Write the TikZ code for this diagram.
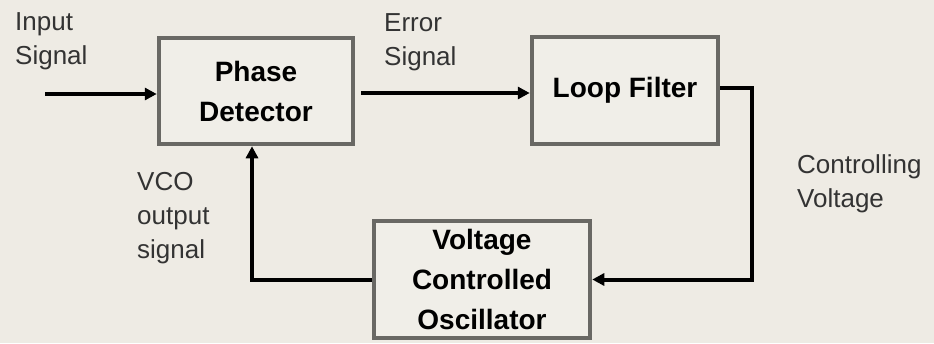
\documentclass[tikz,border=0pt]{standalone}
\usepackage{fontspec}
\setmainfont{Liberation Sans}
\usetikzlibrary{arrows.meta}

\definecolor{bgcol}{RGB}{238,235,228}
\definecolor{boxfill}{RGB}{240,238,232}
\definecolor{boxline}{RGB}{105,104,100}

\tikzset{
    block/.style={
        draw=boxline,
        fill=boxfill,
        line width=4.5pt,
        align=center,
        inner sep=0pt,
        font=\fontsize{28}{40}\selectfont\bfseries
    },
    sig/.style={
        anchor=north west,
        align=left,
        inner sep=0pt,
        text=black!80,
        font=\fontsize{26}{34}\selectfont
    },
    flow/.style={
        line width=4pt,
        -{Triangle[length=12pt,width=12pt]}
    }
}

\begin{document}
\begin{tikzpicture}[x=1pt,y=-1pt]

\fill[bgcol] (0,0) rectangle (934,343);
\useasboundingbox (0,0) rectangle (934,343);

% blocks
\node[block, minimum width=194pt, minimum height=106pt] (pd) at (256,91)
{Phase\\Detector};

\node[block, minimum width=186pt, minimum height=107pt] (lf) at (625,90.5)
{Loop Filter};

\node[block, minimum width=216pt, minimum height=117pt] (vco) at (482,279.5)
{Voltage\\Controlled\\Oscillator};

% signal names
\node[sig] (insig) at (15,12) {Input\\Signal};
\node[sig] (errsig) at (384,13) {Error\\Signal};
\node[sig] (ctrlsig) at (797,154) {Controlling\\Voltage};
\node[sig] (vcosig) at (137,172) {VCO\\output\\signal};

% connectors
\coordinate (in) at (45,94);
\coordinate (turn) at (752,88);

\draw[flow] (in) -- (in -| pd.west);
\draw[flow, shorten <=6pt] (pd.east |- 0,93) -- (lf.west |- 0,93);
\draw[flow] (lf.east |- turn) -- (turn) |- (vco.east);
\draw[flow] (vco.west) -| ([xshift=-4pt]pd.south);

\end{tikzpicture}
\end{document}
